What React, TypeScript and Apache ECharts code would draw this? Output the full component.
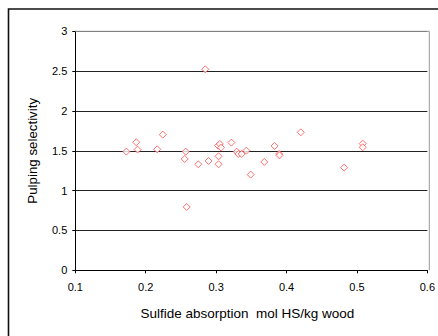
import React, { useEffect, useRef } from "react";
import * as echarts from "echarts";

const sulfideAbsorption: number[] = [
  0.1725, 0.1866, 0.1885, 0.2163, 0.2243, 0.2568, 0.2554, 0.2582, 0.2747, 0.2846,
  0.2893, 0.3029, 0.3052, 0.3070, 0.3034, 0.3034, 0.3217, 0.3293, 0.3316, 0.3363,
  0.3429, 0.3491, 0.3684, 0.3830, 0.3895, 0.3900, 0.4202, 0.4818, 0.5082, 0.5082,
];
const pulpingSelectivity: number[] = [
  1.49, 1.607, 1.515, 1.519, 1.703, 1.49, 1.397, 0.795, 1.331, 2.523,
  1.372, 1.565, 1.586, 1.54, 1.431, 1.331, 1.603, 1.49, 1.46, 1.46,
  1.502, 1.201, 1.36, 1.561, 1.46, 1.443, 1.732, 1.289, 1.59, 1.544,
];

const xTicks = { min: 0.1, max: 0.6, interval: 0.1 };
const yTicks = { min: 0, max: 3, interval: 0.5 };
const xTitle = "Sulfide absorption\u00a0\u00a0mol HS/kg wood";
const yTitle = "Pulping selectivity";

export default function App() {
  const ref = useRef<HTMLDivElement>(null);
  useEffect(() => {
    if (!ref.current) return;
    const chart = echarts.init(ref.current, null, { renderer: "svg" });
    const gl = 75.3, gt = 31.3, gr = 429.3, gb = 270.3;
    const font = "Liberation Sans, Arial, sans-serif";
    chart.setOption({
      animation: false,
      backgroundColor: "#ffffff",
      grid: { left: gl, top: gt, right: 438 - gr, bottom: 336 - gb, containLabel: false },
      xAxis: {
        type: "value",
        min: xTicks.min,
        max: xTicks.max,
        interval: xTicks.interval,
        name: xTitle,
        nameLocation: "middle",
        nameGap: 36.5,
        nameTextStyle: { fontFamily: font, fontSize: 13.5, color: "#000", padding: [0, 8, 0, 0] },
        axisLine: { show: true, lineStyle: { color: "#000", width: 1 } },
        axisTick: { show: true, length: 3, lineStyle: { color: "#000" } },
        axisLabel: {
          fontFamily: font, fontSize: 11, color: "#000", margin: 11,
          formatter: (v: number) => String(Math.round(v * 10) / 10),
        },
        splitLine: { show: false },
      },
      yAxis: {
        type: "value",
        min: yTicks.min,
        max: yTicks.max,
        interval: yTicks.interval,
        name: yTitle,
        nameLocation: "middle",
        nameGap: 36.6,
        nameRotate: 90,
        nameTextStyle: { fontFamily: font, fontSize: 13.3, color: "#000" },
        axisLine: { show: true, lineStyle: { color: "#000", width: 1 } },
        axisTick: { show: true, length: 3, lineStyle: { color: "#000" } },
        axisLabel: { fontFamily: font, fontSize: 11, color: "#000", margin: 8 },
        splitLine: { show: true, lineStyle: { color: "#222", width: 1.2 } },
      },
      graphic: [
        {
          type: "rect",
          shape: { x: 8.5, y: 9, width: 440, height: 340 },
          style: { fill: "none", stroke: "#111", lineWidth: 1.6 },
          z: 100,
        },
        {
          type: "line",
          shape: { x1: gl, y1: gt, x2: gr, y2: gt },
          style: { stroke: "#999", lineWidth: 1 },
          z: 100,
        },
        {
          type: "line",
          shape: { x1: gr, y1: gt, x2: gr, y2: gb },
          style: { stroke: "#999", lineWidth: 1 },
          z: 100,
        },
      ],
      series: [
        {
          type: "scatter",
          data: sulfideAbsorption.map((x, i) => [x, pulpingSelectivity[i]]),
          symbol: "diamond",
          symbolSize: 7,
          itemStyle: { color: "#ffffff", borderColor: "#ff4d4d", borderWidth: 1 },
          z: 10,
        },
      ],
    });
    return () => chart.dispose();
  }, []);
  return (
    <div style={{ position: "fixed", left: 0, top: 0, width: 438, height: 336, overflow: "hidden", background: "#fff" }}>
      <div ref={ref} style={{ width: 438, height: 336 }} />
    </div>
  );
}
